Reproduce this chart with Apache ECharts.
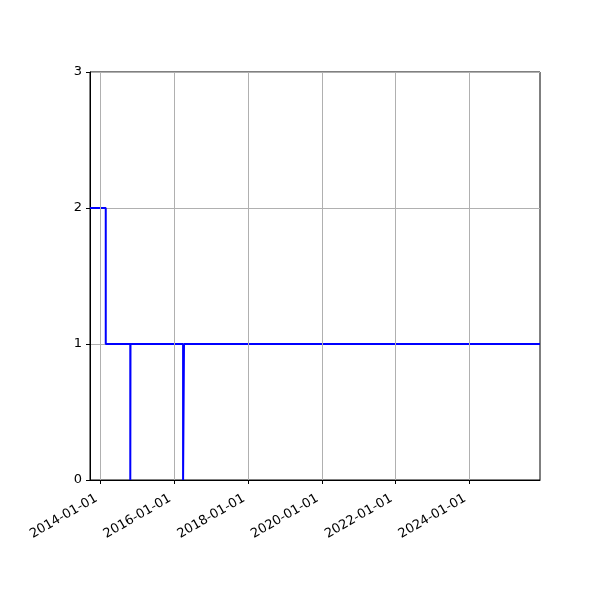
<!DOCTYPE html>
<html><head><meta charset="utf-8">
<script src="https://cdn.jsdelivr.net/npm/echarts@6/dist/echarts.min.js"></script>
<style>html,body{margin:0;padding:0;background:#fff}#c{width:600px;height:600px}</style>
</head><body><div id="c"></div>
<script>
var dates = ['2013-09-17','2014-02-20','2014-10-21','2014-10-23','2016-03-27','2016-04-05','2025-11-30'];
var values = [2, 1, 0, 1, 0, 1, 1];
var xTicks = ['2014-01-01','2016-01-01','2018-01-01','2020-01-01','2022-01-01','2024-01-01'];
var yTicks = [0, 1, 2, 3];

var ts = function(s){ return new Date(s + 'T00:00:00Z').getTime(); };
var seriesData = dates.map(function(d, i){ return [ts(d), values[i]]; });
var tickVals = xTicks.map(ts);

var chart = echarts.init(document.getElementById('c'), null, {renderer:'canvas'});
chart.setOption({
  animation:false,
  grid:{left:90, right:60, top:72, bottom:120, show:true, borderColor:'#000', borderWidth:1, containLabel:false},
  xAxis:{
    type:'value', min:ts(dates[0]), max:ts(dates[dates.length-1]),
    axisLine:{show:true, lineStyle:{color:'#000', width:1}},
    axisTick:{show:true, customValues:tickVals, length:4, lineStyle:{color:'#000'}},
    axisLabel:{show:true, customValues:tickVals, rotate:30, color:'#000', fontSize:13, fontFamily:'DejaVu Sans', margin:15, padding:[0,5,0,0],
      formatter:function(v){ var d=new Date(v); var m=('0'+(d.getUTCMonth()+1)).slice(-2); var dd=('0'+d.getUTCDate()).slice(-2); return d.getUTCFullYear()+'-'+m+'-'+dd; }},
    splitLine:{show:false}
  },
  yAxis:{
    type:'value', min:yTicks[0], max:yTicks[yTicks.length-1], interval:1,
    axisLine:{show:true, lineStyle:{color:'#000', width:1}},
    axisTick:{show:true, length:4, lineStyle:{color:'#000'}},
    axisLabel:{color:'#000', fontSize:13, fontFamily:'DejaVu Sans', margin:8},
    splitLine:{show:true, lineStyle:{color:'#b0b0b0', width:1}}
  },
  series:[{
    type:'line', step:'end', data:seriesData, showSymbol:false, symbol:'none',
    lineStyle:{color:'#0000ff', width:2}, z:3,
    markLine:{silent:true, symbol:['none','none'], label:{show:false}, animation:false,
      lineStyle:{color:'#b0b0b0', width:1, type:'solid'},
      emphasis:{disabled:true},
      data: tickVals.map(function(v){ return {xAxis:v}; })}
  }]
});
</script></body></html>
